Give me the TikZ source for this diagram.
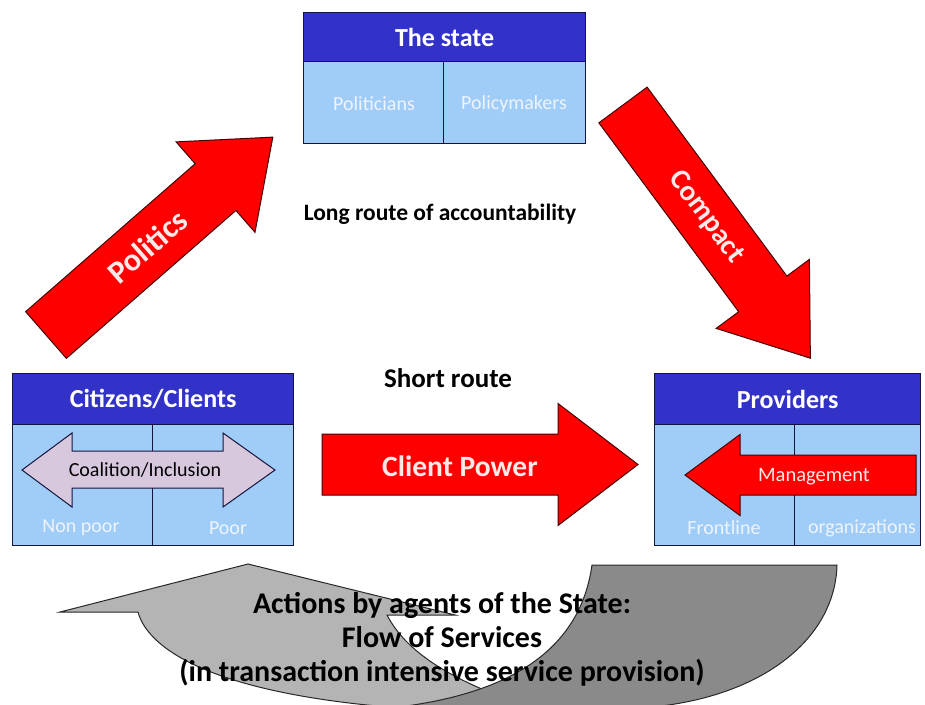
\documentclass[tikz,border=0pt]{standalone}
\usepackage{fontspec}
\setmainfont{Carlito}
\definecolor{hdrblue}{RGB}{50,50,200}
\definecolor{cellblue}{RGB}{160,205,248}
\definecolor{bordc}{RGB}{20,20,60}
\definecolor{celltext}{RGB}{238,244,255}
\definecolor{arrred}{RGB}{255,0,0}
\definecolor{arrdark}{RGB}{70,0,0}
\definecolor{redtext}{RGB}{255,232,232}
\definecolor{lavender}{RGB}{216,200,222}
\definecolor{lgray}{RGB}{180,180,180}
\definecolor{dgray}{RGB}{138,138,138}
\definecolor{gline}{RGB}{40,40,40}
\newcommand\fatarrow[5]{% #1 style, #2 length, #3 shaft width, #4 head width, #5 head length
  \path[#1] (0,{-#3/2}) -- ({#2-#5},{-#3/2}) -- ({#2-#5},{-#4/2}) -- (#2,0)
    -- ({#2-#5},{#4/2}) -- ({#2-#5},{#3/2}) -- (0,{#3/2}) -- cycle;}
\tikzset{
  hdr/.style={draw=bordc, line width=1.2pt, fill=hdrblue, text=white,
    font=\bfseries\fontsize{26}{30}\selectfont, inner sep=0pt, anchor=north west},
  cell/.style={draw=bordc, line width=1.2pt, fill=cellblue, inner sep=0pt, anchor=north west},
  celltxt/.style={text=celltext, font=\fontsize{20}{24}\selectfont, inner sep=0pt},
  redarrow/.style={fill=arrred, draw=arrdark, line width=1pt, line join=miter},
  redtxt/.style={text=redtext, font=\bfseries\fontsize{30}{34}\selectfont, inner sep=0pt},
  plaintxt/.style={text=black, font=\bfseries\fontsize{23.5}{28}\selectfont, inner sep=0pt},
  bottxt/.style={text=black, font=\bfseries\fontsize{30}{34}\selectfont, inner sep=0pt, anchor=base},
}
\begin{document}
\begin{tikzpicture}[x=1pt,y=-1pt]
\useasboundingbox (0,0) rectangle (925,704);
\fill[white] (0,0) rectangle (925,704);

% The state
\node[hdr, minimum width=282pt, minimum height=49pt] (stateH) at (303,12) {The state};
\node[cell, minimum width=140pt, minimum height=82pt] (stateL) at (303,61) {};
\node[cell, minimum width=142pt, minimum height=82pt] (stateR) at (443,61) {};
\node[celltxt] (politicians) at (374,104) {Politicians};
\node[celltxt] (policymakers) at (514,104) {Policymakers};

% Citizens / Clients
\node[hdr, minimum width=281pt, minimum height=51pt] (citH) at (12,373) {Citizens/Clients};
\node[cell, minimum width=140pt, minimum height=121pt] (citL) at (12,424) {};
\node[cell, minimum width=141pt, minimum height=121pt] (citR) at (152,424) {};
\node[celltxt] (nonpoor) at (81,528) {Non poor};
\node[celltxt] (poor) at (228,528) {Poor};
\path[fill=lavender, draw=bordc, line width=1pt, line join=miter]
  (22,470) -- (72,433) -- (72,451) -- (223,451) -- (223,433) -- (275,470)
  -- (223,507) -- (223,488) -- (72,488) -- (72,507) -- cycle;
\node[text=black, font=\fontsize{20}{24}\selectfont, inner sep=0pt] (coalition) at (145,470) {Coalition/Inclusion};

% Providers
\node[hdr, minimum width=266pt, minimum height=51pt] (provH) at (654,373) {Providers};
\node[cell, minimum width=140pt, minimum height=121pt] (provL) at (654,424) {};
\node[cell, minimum width=126pt, minimum height=121pt] (provR) at (794,424) {};
\node[celltxt] (frontline) at (724,528) {Frontline};
\node[celltxt] (orgs) at (862,528) {organizations};
\begin{scope}[shift={(916,475)}, rotate=180]
  \fatarrow{redarrow}{231}{40}{81}{55}
\end{scope}
\node[redtxt, font=\fontsize{20.5}{24}\selectfont] (management) at (814,477) {Management};

% Politics arrow
\begin{scope}[shift={(46,335)}, rotate=41.1]
  \fatarrow{redarrow}{301}{62}{120}{76}
  \node[redtxt, font=\bfseries\fontsize{32}{36}\selectfont, transform shape] (politics) at (135,0) {Politics};
\end{scope}

% Compact arrow
\begin{scope}[shift={(623,105)}, rotate=-53.5]
  \fatarrow{redarrow}{315}{60}{116}{80}
  \node[redtxt, font=\bfseries\fontsize{29}{33}\selectfont, transform shape] (compact) at (140,0) {Compact};
\end{scope}

% Client Power arrow
\begin{scope}[shift={(322,464.5)}]
  \fatarrow{redarrow}{316}{61}{122}{80}
\end{scope}
\node[redtxt, font=\bfseries\fontsize{29.5}{34}\selectfont] (clientpower) at (460,466) {Client Power};

% route labels
\node[plaintxt] (longroute) at (440,214) {Long route of accountability};
\node[plaintxt, font=\bfseries\fontsize{27}{31}\selectfont] (shortroute) at (448,378) {Short route};

% bottom curved arrow
\begin{scope}
  \clip (0,0) rectangle (925,704);
  \path[fill=lgray, draw=gline, line width=1pt, line join=miter]
    (60,612) -- (248,564) -- (455,615) -- (387,615)
    .. controls (405,650) and (450,685) .. (560,716) -- (480,716) -- (480,712)
    .. controls (220,705) and (148,650) .. (138,612) -- cycle;
  \path[fill=dgray, draw=gline, line width=1pt, line join=miter]
    (592,565) -- (837,565) .. controls (835,640) and (760,700) .. (640,708)
    -- (390,708) .. controls (510,695) and (580,650) .. (592,565) -- cycle;
\end{scope}
\node[bottxt] (actions) at (442,613) {Actions by agents of the State:};
\node[bottxt] (flow) at (442,647) {Flow of Services};
\node[bottxt] (transaction) at (442,681) {(in transaction intensive service provision)};
\end{tikzpicture}
\end{document}
